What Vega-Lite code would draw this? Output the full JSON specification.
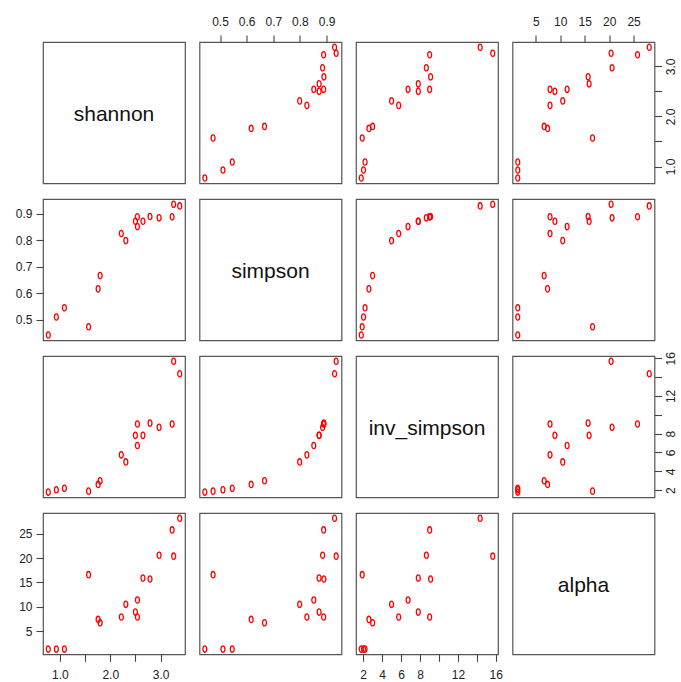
{
"$schema": "https://vega.github.io/schema/vega-lite/v6.json",
"padding": {"left": 14, "top": 14, "right": 2, "bottom": 2},
"background": "white",
"data": {"values": [
{"shannon":0.77,"simpson":0.443,"inv_simpson":1.80,"alpha":1.3},
{"shannon":0.93,"simpson":0.511,"inv_simpson":2.04,"alpha":1.3},
{"shannon":1.09,"simpson":0.546,"inv_simpson":2.20,"alpha":1.3},
{"shannon":1.57,"simpson":0.474,"inv_simpson":1.90,"alpha":16.6},
{"shannon":1.76,"simpson":0.617,"inv_simpson":2.61,"alpha":7.4},
{"shannon":1.80,"simpson":0.667,"inv_simpson":3.00,"alpha":6.7},
{"shannon":2.22,"simpson":0.826,"inv_simpson":5.75,"alpha":7.9},
{"shannon":2.31,"simpson":0.799,"inv_simpson":5.00,"alpha":10.5},
{"shannon":2.50,"simpson":0.872,"inv_simpson":7.82,"alpha":8.9},
{"shannon":2.54,"simpson":0.889,"inv_simpson":9.02,"alpha":7.9},
{"shannon":2.54,"simpson":0.852,"inv_simpson":6.74,"alpha":11.4},
{"shannon":2.65,"simpson":0.872,"inv_simpson":7.82,"alpha":15.9},
{"shannon":2.79,"simpson":0.890,"inv_simpson":9.12,"alpha":15.7},
{"shannon":2.97,"simpson":0.885,"inv_simpson":8.67,"alpha":20.6},
{"shannon":3.26,"simpson":0.936,"inv_simpson":15.68,"alpha":20.4},
{"shannon":3.23,"simpson":0.889,"inv_simpson":9.02,"alpha":25.8},
{"shannon":3.38,"simpson":0.930,"inv_simpson":14.35,"alpha":28.2}
]},
"bounds": "flush",
"spacing": {"row": 15, "column": 14.5},
"columns": 4,
"concat": [
 {"width":142,"height":141.3,"view":{"stroke":"#555","strokeWidth":1.2},"data":{"values":[{"label":"shannon","cx":0.5,"cy":0.5}]},"mark":{"type":"text","font":"Liberation Sans","fontSize":21,"color":"#111","align":"center","baseline":"middle","dy":2},"encoding":{"text":{"field":"label"},"x":{"field":"cx","type":"quantitative","scale":{"domain":[0,1]},"axis":null},"y":{"field":"cy","type":"quantitative","scale":{"domain":[0,1]},"axis":null}}},
 {"width":142,"height":141.3,"mark":{"type":"point","shape":"M -0.62 0 A 0.62 1 0 1 0 0.62 0 A 0.62 1 0 1 0 -0.62 0 Z","filled":false,"stroke":"#ff0000","strokeWidth":1.3,"size":40,"opacity":1},
  "encoding":{"x":{"field":"simpson","type":"quantitative","scale":{"domain":[0.423,0.956],"nice":false,"zero":false},"axis":{"orient":"top","values":[0.5,0.6,0.7,0.8,0.9],"format":".1f"}},
   "y":{"field":"shannon","type":"quantitative","scale":{"domain":[0.665,3.485],"nice":false,"zero":false},"axis":null}}},
 {"width":142,"height":141.3,"mark":{"type":"point","shape":"M -0.62 0 A 0.62 1 0 1 0 0.62 0 A 0.62 1 0 1 0 -0.62 0 Z","filled":false,"stroke":"#ff0000","strokeWidth":1.3,"size":40,"opacity":1},
  "encoding":{"x":{"field":"inv_simpson","type":"quantitative","scale":{"domain":[1.245,16.235],"nice":false,"zero":false},"axis":null},
   "y":{"field":"shannon","type":"quantitative","scale":{"domain":[0.665,3.485],"nice":false,"zero":false},"axis":null}}},
 {"width":142,"height":141.3,"mark":{"type":"point","shape":"M -0.62 0 A 0.62 1 0 1 0 0.62 0 A 0.62 1 0 1 0 -0.62 0 Z","filled":false,"stroke":"#ff0000","strokeWidth":1.3,"size":40,"opacity":1},
  "encoding":{"x":{"field":"alpha","type":"quantitative","scale":{"domain":[0.224,29.276],"nice":false,"zero":false},"axis":{"orient":"top","values":[5,10,15,20,25]}},
   "y":{"field":"shannon","type":"quantitative","scale":{"domain":[0.665,3.485],"nice":false,"zero":false},"axis":{"orient":"right","values":[1,1.5,2,2.5,3],"labelExpr":"datum.value % 1 == 0 ? format(datum.value, '.1f') : ''","labelAngle":-90}}}},
 {"width":142,"height":141.3,"mark":{"type":"point","shape":"M -0.62 0 A 0.62 1 0 1 0 0.62 0 A 0.62 1 0 1 0 -0.62 0 Z","filled":false,"stroke":"#ff0000","strokeWidth":1.3,"size":40,"opacity":1},
  "encoding":{"x":{"field":"shannon","type":"quantitative","scale":{"domain":[0.665,3.485],"nice":false,"zero":false},"axis":null},
   "y":{"field":"simpson","type":"quantitative","scale":{"domain":[0.423,0.956],"nice":false,"zero":false},"axis":{"orient":"left","values":[0.5,0.6,0.7,0.8,0.9],"format":".1f","labelAngle":0}}}},
 {"width":142,"height":141.3,"view":{"stroke":"#555","strokeWidth":1.2},"data":{"values":[{"label":"simpson","cx":0.5,"cy":0.5}]},"mark":{"type":"text","font":"Liberation Sans","fontSize":21,"color":"#111","align":"center","baseline":"middle","dy":2},"encoding":{"text":{"field":"label"},"x":{"field":"cx","type":"quantitative","scale":{"domain":[0,1]},"axis":null},"y":{"field":"cy","type":"quantitative","scale":{"domain":[0,1]},"axis":null}}},
 {"width":142,"height":141.3,"mark":{"type":"point","shape":"M -0.62 0 A 0.62 1 0 1 0 0.62 0 A 0.62 1 0 1 0 -0.62 0 Z","filled":false,"stroke":"#ff0000","strokeWidth":1.3,"size":40,"opacity":1},
  "encoding":{"x":{"field":"inv_simpson","type":"quantitative","scale":{"domain":[1.245,16.235],"nice":false,"zero":false},"axis":null},
   "y":{"field":"simpson","type":"quantitative","scale":{"domain":[0.423,0.956],"nice":false,"zero":false},"axis":null}}},
 {"width":142,"height":141.3,"mark":{"type":"point","shape":"M -0.62 0 A 0.62 1 0 1 0 0.62 0 A 0.62 1 0 1 0 -0.62 0 Z","filled":false,"stroke":"#ff0000","strokeWidth":1.3,"size":40,"opacity":1},
  "encoding":{"x":{"field":"alpha","type":"quantitative","scale":{"domain":[0.224,29.276],"nice":false,"zero":false},"axis":null},
   "y":{"field":"simpson","type":"quantitative","scale":{"domain":[0.423,0.956],"nice":false,"zero":false},"axis":null}}},
 {"width":142,"height":141.3,"mark":{"type":"point","shape":"M -0.62 0 A 0.62 1 0 1 0 0.62 0 A 0.62 1 0 1 0 -0.62 0 Z","filled":false,"stroke":"#ff0000","strokeWidth":1.3,"size":40,"opacity":1},
  "encoding":{"x":{"field":"shannon","type":"quantitative","scale":{"domain":[0.665,3.485],"nice":false,"zero":false},"axis":null},
   "y":{"field":"inv_simpson","type":"quantitative","scale":{"domain":[1.245,16.235],"nice":false,"zero":false},"axis":null}}},
 {"width":142,"height":141.3,"mark":{"type":"point","shape":"M -0.62 0 A 0.62 1 0 1 0 0.62 0 A 0.62 1 0 1 0 -0.62 0 Z","filled":false,"stroke":"#ff0000","strokeWidth":1.3,"size":40,"opacity":1},
  "encoding":{"x":{"field":"simpson","type":"quantitative","scale":{"domain":[0.423,0.956],"nice":false,"zero":false},"axis":null},
   "y":{"field":"inv_simpson","type":"quantitative","scale":{"domain":[1.245,16.235],"nice":false,"zero":false},"axis":null}}},
 {"width":142,"height":141.3,"view":{"stroke":"#555","strokeWidth":1.2},"data":{"values":[{"label":"inv_simpson","cx":0.5,"cy":0.5}]},"mark":{"type":"text","font":"Liberation Sans","fontSize":21,"color":"#111","align":"center","baseline":"middle","dy":2},"encoding":{"text":{"field":"label"},"x":{"field":"cx","type":"quantitative","scale":{"domain":[0,1]},"axis":null},"y":{"field":"cy","type":"quantitative","scale":{"domain":[0,1]},"axis":null}}},
 {"width":142,"height":141.3,"mark":{"type":"point","shape":"M -0.62 0 A 0.62 1 0 1 0 0.62 0 A 0.62 1 0 1 0 -0.62 0 Z","filled":false,"stroke":"#ff0000","strokeWidth":1.3,"size":40,"opacity":1},
  "encoding":{"x":{"field":"alpha","type":"quantitative","scale":{"domain":[0.224,29.276],"nice":false,"zero":false},"axis":null},
   "y":{"field":"inv_simpson","type":"quantitative","scale":{"domain":[1.245,16.235],"nice":false,"zero":false},"axis":{"orient":"right","values":[2,4,6,8,10,12,14,16],"labelExpr":"indexof([2,4,6,8,12,16], datum.value) >= 0 ? datum.label : ''","labelAngle":-90}}}},
 {"width":142,"height":141.3,"mark":{"type":"point","shape":"M -0.62 0 A 0.62 1 0 1 0 0.62 0 A 0.62 1 0 1 0 -0.62 0 Z","filled":false,"stroke":"#ff0000","strokeWidth":1.3,"size":40,"opacity":1},
  "encoding":{"x":{"field":"shannon","type":"quantitative","scale":{"domain":[0.665,3.485],"nice":false,"zero":false},"axis":{"orient":"bottom","values":[1,1.5,2,2.5,3],"labelExpr":"datum.value % 1 == 0 ? format(datum.value, '.1f') : ''"}},
   "y":{"field":"alpha","type":"quantitative","scale":{"domain":[0.224,29.276],"nice":false,"zero":false},"axis":{"orient":"left","values":[5,10,15,20,25],"labelAngle":0}}}},
 {"width":142,"height":141.3,"mark":{"type":"point","shape":"M -0.62 0 A 0.62 1 0 1 0 0.62 0 A 0.62 1 0 1 0 -0.62 0 Z","filled":false,"stroke":"#ff0000","strokeWidth":1.3,"size":40,"opacity":1},
  "encoding":{"x":{"field":"simpson","type":"quantitative","scale":{"domain":[0.423,0.956],"nice":false,"zero":false},"axis":null},
   "y":{"field":"alpha","type":"quantitative","scale":{"domain":[0.224,29.276],"nice":false,"zero":false},"axis":null}}},
 {"width":142,"height":141.3,"mark":{"type":"point","shape":"M -0.62 0 A 0.62 1 0 1 0 0.62 0 A 0.62 1 0 1 0 -0.62 0 Z","filled":false,"stroke":"#ff0000","strokeWidth":1.3,"size":40,"opacity":1},
  "encoding":{"x":{"field":"inv_simpson","type":"quantitative","scale":{"domain":[1.245,16.235],"nice":false,"zero":false},"axis":{"orient":"bottom","values":[2,4,6,8,10,12,14,16],"labelExpr":"indexof([2,4,6,8,12,16], datum.value) >= 0 ? datum.label : ''"}},
   "y":{"field":"alpha","type":"quantitative","scale":{"domain":[0.224,29.276],"nice":false,"zero":false},"axis":null}}},
 {"width":142,"height":141.3,"view":{"stroke":"#555","strokeWidth":1.2},"data":{"values":[{"label":"alpha","cx":0.5,"cy":0.5}]},"mark":{"type":"text","font":"Liberation Sans","fontSize":21,"color":"#111","align":"center","baseline":"middle","dy":2},"encoding":{"text":{"field":"label"},"x":{"field":"cx","type":"quantitative","scale":{"domain":[0,1]},"axis":null},"y":{"field":"cy","type":"quantitative","scale":{"domain":[0,1]},"axis":null}}}
],
"config": {
 "view": {"stroke": "#555", "strokeWidth": 1.2},
 "axis": {"domain": false, "grid": false, "ticks": true, "tickSize": 7, "tickColor": "#444", "tickWidth": 1.1,
  "labelFont": "Liberation Sans", "labelFontSize": 12, "labelColor": "#222", "labelPadding": 4,
  "labelFlush": false, "labelOverlap": false, "title": null},
 "axisTop": {"labelPadding": 7},
 "axisBottom": {"labelPadding": 8},
 "axisRight": {"labelPadding": 4},
 "axisLeft": {"labelPadding": 4}
}
}
